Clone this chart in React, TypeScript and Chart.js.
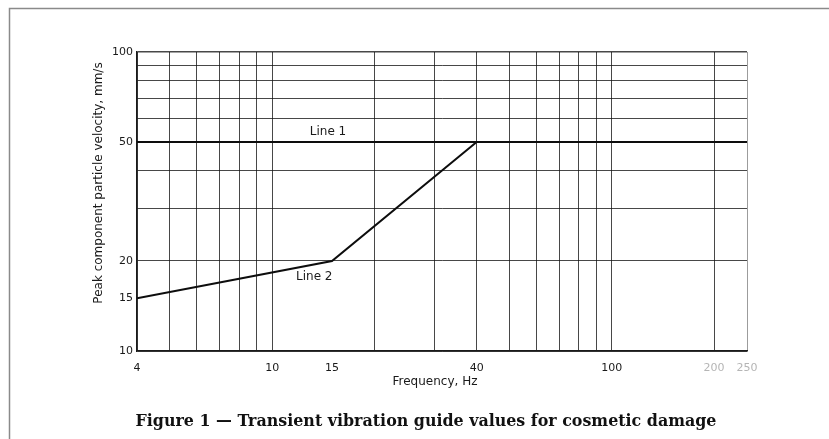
import React, { useEffect, useRef } from 'react';
import { Chart, registerables } from 'chart.js';

Chart.register(...registerables);

// Guide value lines (frequency in Hz, peak component particle velocity in mm/s)
const line1Frequency = [4, 250];
const line1Velocity = [50, 50];
const line2Frequency = [4, 15, 40];
const line2Velocity = [15, 20, 50];

// Logarithmic rulings and the values that carry a label
const frequencyGrid = [4, 5, 6, 7, 8, 9, 10, 15, 20, 30, 40, 50, 60, 70, 80, 90, 100, 200, 250];
const frequencyLabels = [4, 10, 15, 40, 100, 200, 250];
const fadedFrequencyLabels = [200, 250];
const velocityGrid = [10, 15, 20, 30, 40, 50, 60, 70, 80, 90, 100];
const velocityLabels = [10, 15, 20, 50, 100];
const unruledValues = [15];

const xTitle = 'Frequency, Hz';
const yTitle = 'Peak component particle velocity, mm/s';
const caption = 'Figure 1 \u2014 Transient vibration guide values for cosmetic damage';
const line1Label = 'Line 1';
const line2Label = 'Line 2';

const SANS = '"DejaVu Sans", sans-serif';
const INK = '#1a1a1a';
const RULE = 'rgba(20,20,20,0.78)';

const decorPlugin = {
  id: 'figureDecor',
  afterDraw(chart: any) {
    const { ctx } = chart;
    const x = chart.scales.x;
    const y = chart.scales.y;
    ctx.save();

    // page frame (top and left edges)
    ctx.strokeStyle = '#8a8a8a';
    ctx.lineWidth = 1.5;
    ctx.beginPath();
    ctx.moveTo(9.5, 439);
    ctx.lineTo(9.5, 8.5);
    ctx.lineTo(829, 8.5);
    ctx.stroke();

    ctx.fillStyle = INK;
    ctx.font = `12px ${SANS}`;
    ctx.textAlign = 'center';
    ctx.textBaseline = 'middle';

    // axis titles
    ctx.fillText(xTitle, 435, 382);
    ctx.save();
    ctx.translate(99, 183);
    ctx.rotate(-Math.PI / 2);
    ctx.fillText(yTitle, 0, 0);
    ctx.restore();

    // line labels, placed next to their lines
    ctx.fillText(line1Label, x.getPixelForValue(14.6), y.getPixelForValue(line1Velocity[0]) - 10);
    ctx.fillText(line2Label, x.getPixelForValue(13.3), y.getPixelForValue(17.7));

    // caption
    ctx.font = `bold 15px "DejaVu Serif", serif`;
    const w = ctx.measureText(caption).width;
    const size = 15 * 581 / w;
    ctx.font = `bold ${size.toFixed(2)}px "DejaVu Serif", serif`;
    ctx.fillStyle = '#111';
    ctx.fillText(caption, 426, 422);

    ctx.restore();
  },
};

export default function App() {
  const canvasRef = useRef<HTMLCanvasElement | null>(null);

  useEffect(() => {
    const canvas = canvasRef.current;
    if (!canvas) return;

    const chart = new Chart(canvas, {
      type: 'line',
      data: {
        datasets: [
          {
            label: line1Label,
            data: line1Frequency.map((f, i) => ({ x: f, y: line1Velocity[i] })),
            borderColor: '#0d0d0d',
            borderWidth: 2,
            pointRadius: 0,
            fill: false,
          },
          {
            label: line2Label,
            data: line2Frequency.map((f, i) => ({ x: f, y: line2Velocity[i] })),
            borderColor: '#0d0d0d',
            borderWidth: 2,
            pointRadius: 0,
            fill: false,
          },
        ],
      },
      options: {
        animation: false,
        responsive: false,
        layout: { padding: { left: 0, top: 52, right: 82, bottom: 0 } },
        plugins: {
          legend: { display: false },
          tooltip: { enabled: false },
          title: { display: false },
        },
        scales: {
          x: {
            type: 'logarithmic',
            min: 4,
            max: 250,
            afterFit: (scale: any) => {
              scale.height = 88;
            },
            afterBuildTicks: (scale: any) => {
              scale.ticks = frequencyGrid.map((v) => ({ value: v }));
            },
            border: { display: true, color: INK, width: 1.5 },
            grid: {
              drawTicks: false,
              lineWidth: 1,
              color: (c: any) => {
                const v = c.tick && c.tick.value;
                if (unruledValues.includes(v)) return 'rgba(0,0,0,0)';
                if (v === 250) return 'rgba(90,90,90,0.6)';
                return RULE;
              },
            },
            ticks: {
              autoSkip: false,
              maxRotation: 0,
              padding: 11,
              font: { family: SANS, size: 11 },
              color: (c: any) =>
                fadedFrequencyLabels.includes(c.tick && c.tick.value) ? '#b5b5b5' : INK,
              callback: (value: any) =>
                frequencyLabels.includes(Number(value)) ? String(value) : '',
            },
          },
          y: {
            type: 'logarithmic',
            min: 10,
            max: 100,
            afterFit: (scale: any) => {
              scale.width = 137;
            },
            afterBuildTicks: (scale: any) => {
              scale.ticks = velocityGrid.map((v) => ({ value: v }));
            },
            border: { display: true, color: INK, width: 1.5 },
            grid: {
              drawTicks: false,
              lineWidth: (c: any) => (c.tick && c.tick.value === 100 ? 1.5 : 1),
              color: (c: any) => {
                const v = c.tick && c.tick.value;
                if (unruledValues.includes(v)) return 'rgba(0,0,0,0)';
                return RULE;
              },
            },
            ticks: {
              autoSkip: false,
              padding: 4,
              font: { family: SANS, size: 11 },
              color: INK,
              callback: (value: any) =>
                velocityLabels.includes(Number(value)) ? String(value) : '',
            },
          },
        },
      },
      plugins: [decorPlugin],
    });

    return () => chart.destroy();
  }, []);

  return (
    <div style={{ position: 'absolute', left: 0, top: 0, width: 829, height: 439, background: '#fff' }}>
      <canvas ref={canvasRef} width={829} height={439} />
    </div>
  );
}
